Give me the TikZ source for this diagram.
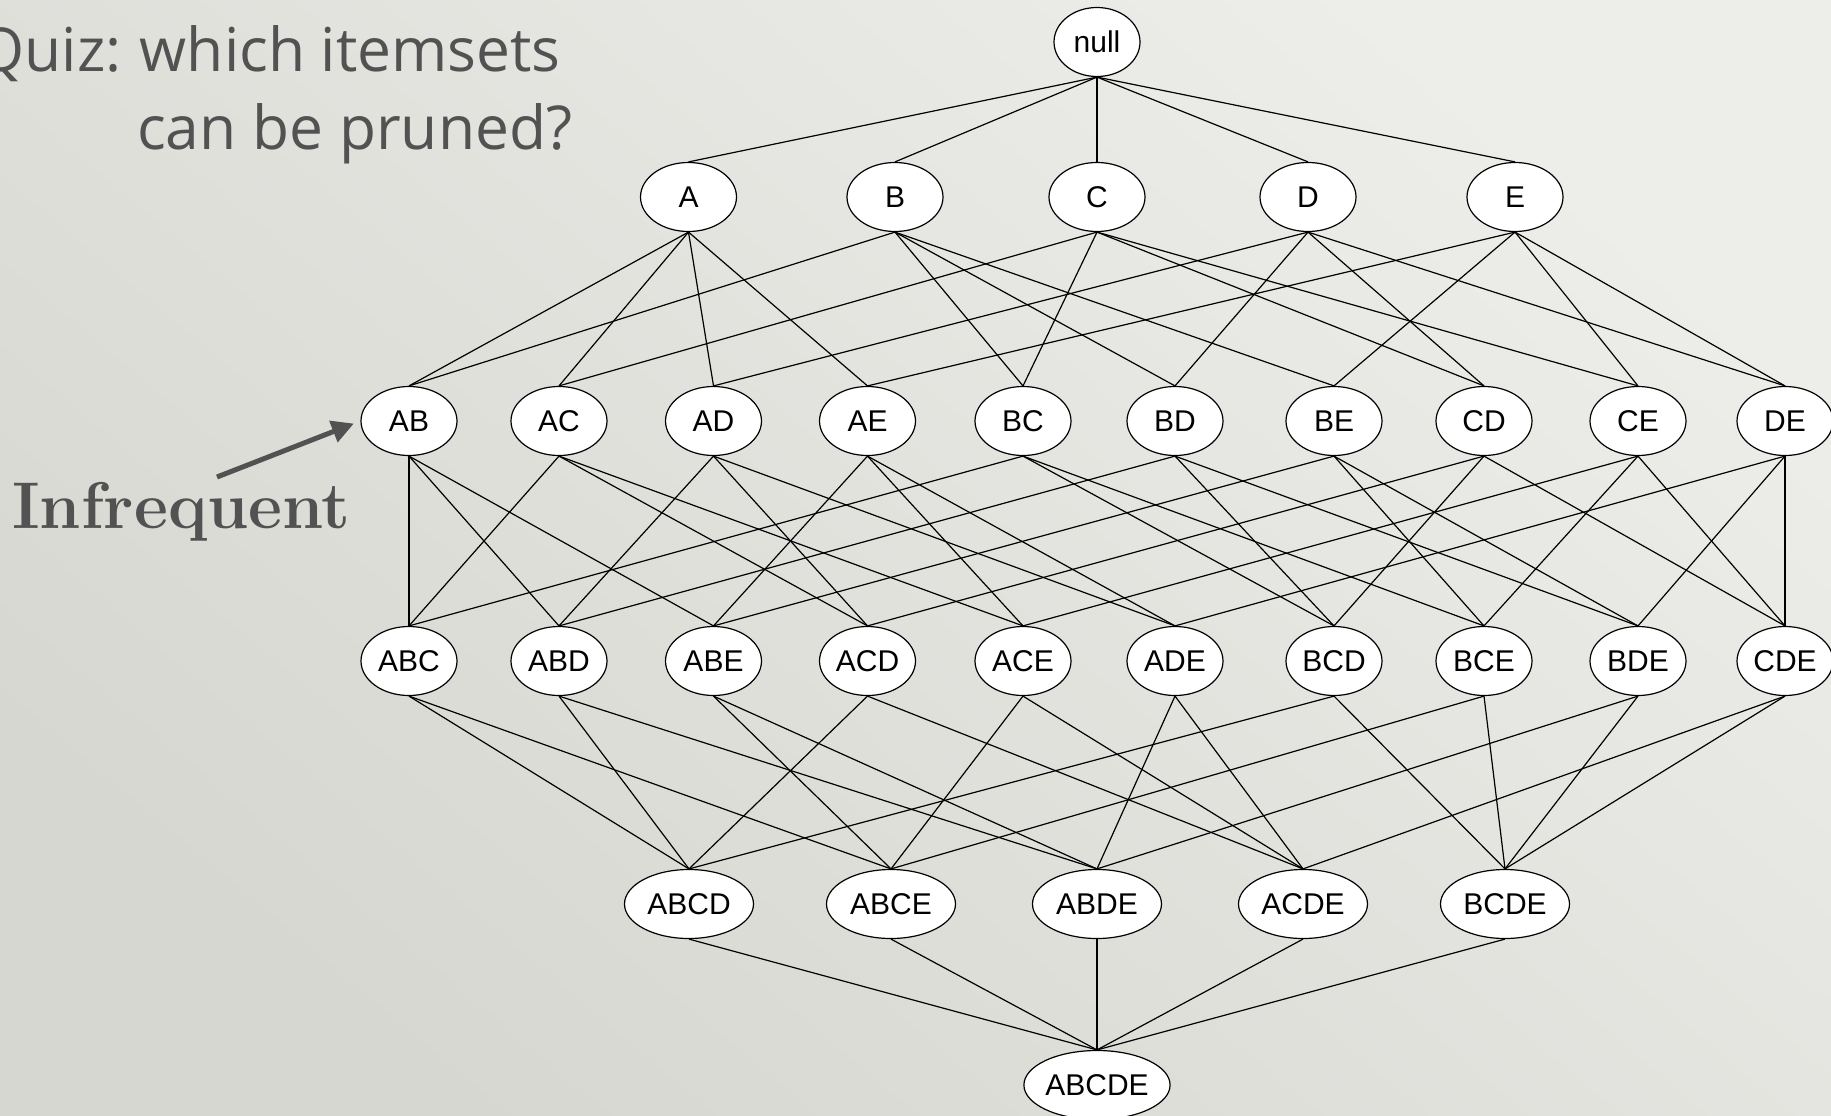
\documentclass[tikz,border=0pt]{standalone}
\usepackage{fontspec}
\newfontfamily\nodefont{Liberation Sans}
\newfontfamily\quizfont{Open Sans}
\usetikzlibrary{shapes.geometric,arrows.meta}
\definecolor{bgdark}{HTML}{D6D7D0}
\definecolor{bglight}{HTML}{EDEDEA}
\definecolor{labelgray}{HTML}{525252}
\tikzset{
  itemset/.style={ellipse, draw=black, fill=white, line width=1.2pt,
    inner sep=0pt, minimum height=69pt, minimum width=96pt,
    font=\nodefont\fontsize{30}{36}\selectfont},
  emptyset/.style={itemset, minimum width=86pt},
  quadset/.style={itemset, minimum width=129pt},
  fullset/.style={itemset, minimum width=140pt},
  lattice/.style={line width=1.2pt, black},
  quiztext/.style={font=\quizfont\fontsize{60.5}{72}\selectfont, text=labelgray, inner sep=0pt},
}
\begin{document}
\begin{tikzpicture}[x=1pt, y=-1pt]
  % page and background
  \useasboundingbox (0,0) rectangle (1831,1116);
  \shade[top color=bglight, bottom color=bgdark, shading angle=-40]
    (0,0) rectangle (1831,1116);

  % question
  \node[quiztext, anchor=base east] (q1) at (561,71) {Quiz:\hspace{0.3em}which itemsets};
  \node[quiztext, anchor=base west] (q2) at (137,149) {can be pruned?};

  % level 0
  \node[emptyset] (null) at (1097,42) {null};
  % level 1
  \foreach \n/\x in {A/688.5, B/895, C/1097, D/1308, E/1515}
    \node[itemset] (\n) at (\x,197) {\n};
  % level 2
  \foreach \n/\x in {AB/409, AC/559, AD/713.5, AE/867.5, BC/1023,
                     BD/1175, BE/1334, CD/1484, CE/1638, DE/1785}
    \node[itemset] (\n) at (\x,421) {\n};
  % level 3
  \foreach \n/\x in {ABC/409, ABD/559, ABE/713.5, ACD/867.5, ACE/1023,
                     ADE/1175, BCD/1334, BCE/1484, BDE/1638, CDE/1785}
    \node[itemset] (\n) at (\x,661) {\n};
  % level 4
  \foreach \n/\x in {ABCD/689, ABCE/891, ABDE/1097, ACDE/1303, BCDE/1505}
    \node[quadset] (\n) at (\x,904) {\n};
  % level 5
  \node[fullset] (ABCDE) at (1097,1085) {ABCDE};

  % subset relations
  \foreach \p/\cs in {
      null/{A,B,C,D,E},
      A/{AB,AC,AD,AE}, B/{AB,BC,BD,BE}, C/{AC,BC,CD,CE},
      D/{AD,BD,CD,DE}, E/{AE,BE,CE,DE},
      AB/{ABC,ABD,ABE}, AC/{ABC,ACD,ACE}, AD/{ABD,ACD,ADE},
      AE/{ABE,ACE,ADE}, BC/{ABC,BCD,BCE}, BD/{ABD,BCD,BDE},
      BE/{ABE,BCE,BDE}, CD/{ACD,BCD,CDE}, CE/{ACE,BCE,CDE},
      DE/{ADE,BDE,CDE},
      ABC/{ABCD,ABCE}, ABD/{ABCD,ABDE}, ABE/{ABCE,ABDE},
      ACD/{ABCD,ACDE}, ACE/{ABCE,ACDE}, ADE/{ABDE,ACDE},
      BCD/{ABCD,BCDE}, BCE/{ABCE,BCDE}, BDE/{ABDE,BCDE},
      CDE/{ACDE,BCDE},
      ABCD/{ABCDE}, ABCE/{ABCDE}, ABDE/{ABCDE}, ACDE/{ABCDE}, BCDE/{ABCDE}}
    \foreach \c in \cs
      \draw[lattice] (\p.south) -- (\c.north);

  % annotation
  \node[font=\bfseries\fontsize{66}{74}\selectfont, text=labelgray,
        inner sep=0pt, anchor=base west] (infreq) at (12,528) {Infrequent};
  \coordinate (arrowfoot) at (217,477);
  \draw[labelgray, line width=5pt, shorten >=7pt,
        -{Triangle[length=22pt, width=22pt]}] (arrowfoot) -- (AB.west);
\end{tikzpicture}
\end{document}
